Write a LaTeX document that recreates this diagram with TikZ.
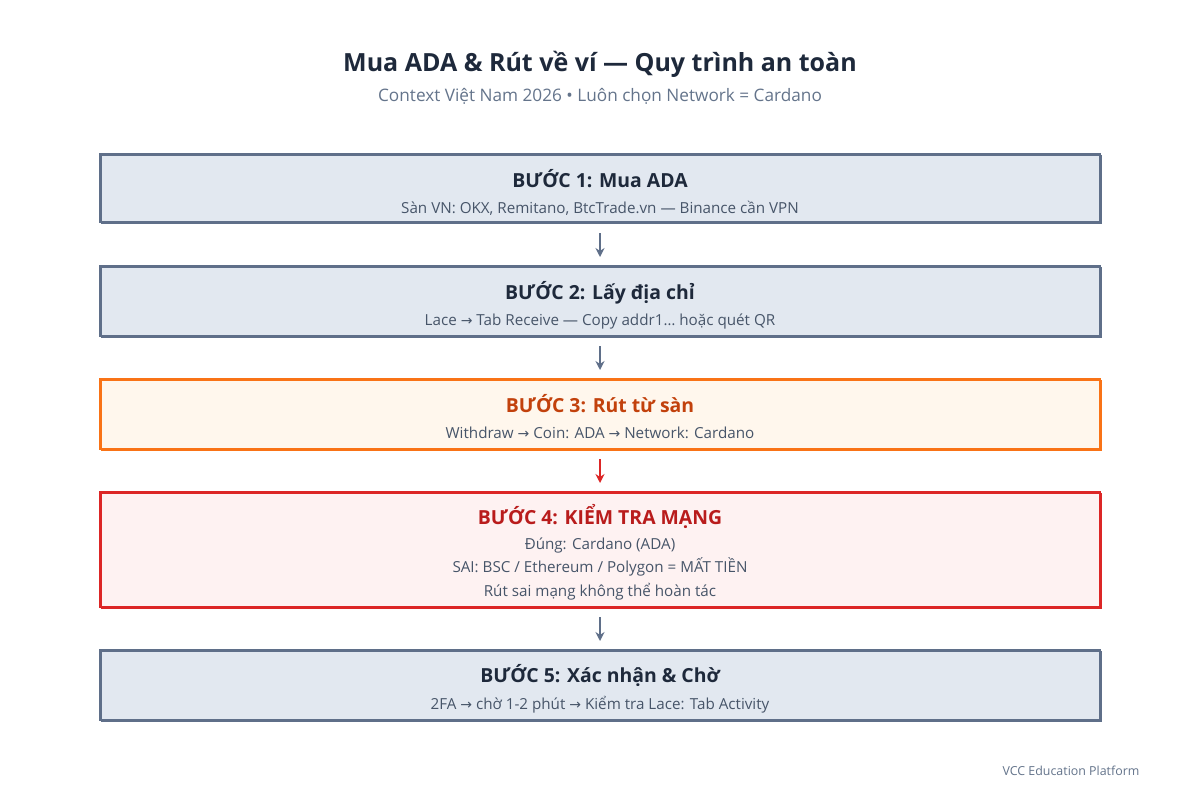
\documentclass[tikz,border=0pt]{standalone}
\usepackage{fontspec}
\setmainfont{Open Sans}
\newfontfamily\symfont{DejaVu Sans}
\usetikzlibrary{arrows.meta}

\definecolor{ink}{HTML}{1E293B}
\definecolor{muted}{HTML}{64748B}
\definecolor{subtxt}{HTML}{475569}
\definecolor{slateline}{HTML}{5F6F89}
\definecolor{slatefill}{HTML}{E2E8F0}
\definecolor{orangeline}{HTML}{F97316}
\definecolor{orangefill}{HTML}{FFF7ED}
\definecolor{orangetxt}{HTML}{C2410C}
\definecolor{redline}{HTML}{DC2626}
\definecolor{redfill}{HTML}{FEF2F2}
\definecolor{redtxt}{HTML}{B91C1C}

\newcommand{\ra}{{\symfont\fontsize{14}{16}\selectfont →}}

\tikzset{
  stepbox/.style={draw=slateline, fill=slatefill, line width=2pt, minimum width=1000pt, align=center, inner sep=0pt,
    postaction={draw=#1, line width=0.8pt, transform canvas={shift={(1.2pt,-1.2pt)}}}},
  stepbox/.default=slateline,
  warnbox/.style={stepbox=orangeline, draw=orangeline, fill=orangefill},
  dangerbox/.style={stepbox=redline, draw=redline, fill=redfill},
  flow/.style={-{Stealth[length=9pt,width=9pt]}, line width=1.6pt, draw=slateline},
  boxtitle/.style={anchor=base, font=\bfseries\fontsize{19.4}{23}\selectfont, text=ink},
  boxsub/.style={anchor=base, font=\fontsize{15.2}{18}\selectfont, text=subtxt}
}

\begin{document}
\begin{tikzpicture}[x=1pt,y=-1pt]
\useasboundingbox[fill=white] (0,0) rectangle (1200,800);

% Heading
\node[anchor=base, font=\bfseries\fontsize{25}{30}\selectfont, text=ink] (title) at (600,71) {Mua ADA \& Rút về ví — Quy trình an toàn};
\node[anchor=base, font=\fontsize{17.2}{20}\selectfont, text=muted] (subtitle) at (600,102) {Context Việt Nam 2026 • Luôn chọn Network = Cardano};

% Boxes
\node[stepbox, minimum height=68pt] (s1) at (600,188) {};
\node[stepbox, minimum height=70pt] (s2) at (600,301) {};
\node[warnbox, minimum height=70pt] (s3) at (600,414) {};
\node[dangerbox, minimum height=115pt] (s4) at (600,549.5) {};
\node[stepbox, minimum height=70pt] (s5) at (600,685) {};

% Step 1
\node[boxtitle] (t1) at (600,187) {BƯỚC 1: Mua ADA};
\node[boxsub] (d1) at (600,213) {Sàn VN: OKX, Remitano, BtcTrade.vn — Binance cần VPN};

% Step 2
\node[boxtitle] (t2) at (600,299) {BƯỚC 2: Lấy địa chỉ};
\node[boxsub] (d2) at (600,325) {Lace \ra{} Tab Receive — Copy addr1… hoặc quét QR};

% Step 3
\node[boxtitle, text=orangetxt] (t3) at (600,412) {BƯỚC 3: Rút từ sàn};
\node[boxsub] (d3) at (600,438) {Withdraw \ra{} Coin: ADA \ra{} Network: Cardano};

% Step 4
\node[boxtitle, text=redtxt] (t4) at (600,524) {BƯỚC 4: KIỂM TRA MẠNG};
\node[boxsub] (d4a) at (600,549) {Đúng: Cardano (ADA)};
\node[boxsub] (d4b) at (600,572) {SAI: BSC / Ethereum / Polygon = MẤT TIỀN};
\node[boxsub] (d4c) at (600,596) {Rút sai mạng không thể hoàn tác};

% Step 5
\node[boxtitle] (t5) at (600,682) {BƯỚC 5: Xác nhận \& Chờ};
\node[boxsub] (d5) at (600,709) {2FA \ra{} chờ 1-2 phút \ra{} Kiểm tra Lace: Tab Activity};

% Arrows
\draw[flow, shorten <=10pt, shorten >=8pt] (s1.south) -- (s2.north);
\draw[flow, shorten <=9pt, shorten >=8pt] (s2.south) -- (s3.north);
\draw[flow, draw=redline, shorten <=9pt, shorten >=8pt] (s3.south) -- (s4.north);
\draw[flow, shorten <=9pt, shorten >=8pt] (s4.south) -- (s5.north);

% Footer
\node[anchor=base, font=\fontsize{12.4}{15}\selectfont, text=muted] (footer) at (1071,775) {VCC Education Platform};
\end{tikzpicture}
\end{document}
